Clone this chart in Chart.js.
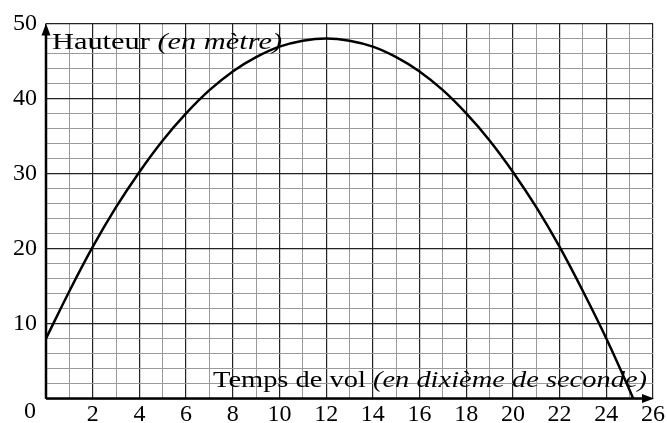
<!DOCTYPE html>
<html>
<head>
<meta charset="utf-8">
<script src="https://cdn.jsdelivr.net/npm/chart.js@4/dist/chart.umd.min.js"></script>
<style>
  html, body { margin: 0; padding: 0; background: #fff; }
  #wrap { width: 667px; height: 423px; }
</style>
</head>
<body>
<div id="wrap"><canvas id="vol-chart" width="667" height="423"></canvas></div>
<script>
// --- data ---
const timeValues = [0, 1, 2, 3, 4, 5, 6, 7, 8, 9, 10, 11, 12, 13, 14, 15, 16, 17, 18, 19, 20, 21, 22, 23, 24, 25, 25.15];
const heightValues = [8, 14.3, 20.2, 25.5, 30.2, 34.4, 38, 41.1, 43.6, 45.5, 46.9, 47.7, 48, 47.7, 46.9, 45.5, 43.6, 41.1, 38, 34.4, 30.2, 25.5, 20.2, 14.3, 8, 1.1, 0];
const xTickLabels = [2, 4, 6, 8, 10, 12, 14, 16, 18, 20, 22, 24, 26];
const yTickLabels = [10, 20, 30, 40, 50];
const originLabel = '0';
const yTitle = ['Hauteur ', '(en mètre)'];
const xTitle = ['Temps de vol ', '(en dixième de seconde)'];

const SERIF = '"Liberation Serif", "DejaVu Serif", serif';
const FONT_SIZE = 24;

// --- titles, origin label and arrowed axes ---
// the reference font is wider than Liberation Serif, so titles get stretched to width
function drawTitle(ctx, parts, x, y, width) {
    ctx.font = `${FONT_SIZE}px ${SERIF}`;
    const w0 = ctx.measureText(parts[0]).width;
    ctx.font = `italic ${FONT_SIZE}px ${SERIF}`;
    const w1 = ctx.measureText(parts[1]).width;
    const k = width / (w0 + w1);
    ctx.save();
    ctx.translate(x, y);
    ctx.scale(k, 1);
    ctx.font = `${FONT_SIZE}px ${SERIF}`;
    ctx.fillText(parts[0], 0, 0);
    ctx.font = `italic ${FONT_SIZE}px ${SERIF}`;
    ctx.fillText(parts[1], w0, 0);
    ctx.restore();
}

const decorPlugin = {
    id: 'decor',
    beforeDatasetsDraw(chart) {
        const { ctx, chartArea: a } = chart;
        ctx.save();
        ctx.fillStyle = '#000';
        ctx.textBaseline = 'alphabetic';
        ctx.textAlign = 'left';
        drawTitle(ctx, yTitle, a.left + 6, a.top + 26, 230);
        drawTitle(ctx, xTitle, a.left + 167, a.bottom - 11.5, 434);
        ctx.restore();
    },
    afterDatasetsDraw(chart) {
        const { ctx, chartArea: a } = chart;
        ctx.save();
        ctx.strokeStyle = '#000';
        ctx.fillStyle = '#000';
        ctx.lineWidth = 2.5;
        ctx.beginPath();
        ctx.moveTo(a.left, a.bottom);
        ctx.lineTo(a.left, a.top + 8);
        ctx.moveTo(a.left, a.bottom);
        ctx.lineTo(a.right - 8, a.bottom);
        ctx.stroke();
        // arrow heads
        ctx.beginPath();
        ctx.moveTo(a.left, a.top);
        ctx.lineTo(a.left - 4.5, a.top + 12);
        ctx.lineTo(a.left + 4.5, a.top + 12);
        ctx.closePath();
        ctx.fill();
        ctx.beginPath();
        ctx.moveTo(a.right + 1, a.bottom);
        ctx.lineTo(a.right - 11, a.bottom - 4.5);
        ctx.lineTo(a.right - 11, a.bottom + 4.5);
        ctx.closePath();
        ctx.fill();
        // origin label
        ctx.font = `${FONT_SIZE}px ${SERIF}`;
        ctx.textAlign = 'center';
        ctx.textBaseline = 'middle';
        ctx.fillText(originLabel, a.left - 16, a.bottom + 13);
        ctx.restore();
    }
};

const chartCtx = document.getElementById('vol-chart').getContext('2d');
const volChart = new Chart(chartCtx, {
    type: 'scatter',
    data: {
        datasets: [{
            data: timeValues.map((t, i) => ({ x: t, y: heightValues[i] })),
            showLine: true,
            borderColor: '#000',
            borderWidth: 2.5,
            pointRadius: 0,
            cubicInterpolationMode: 'monotone',
            fill: false
        }]
    },
    options: {
        responsive: false,
        devicePixelRatio: 1,
        animation: false,
        layout: { padding: { top: 22.5, right: 13, left: 0, bottom: 0 } },
        plugins: { legend: { display: false }, tooltip: { enabled: false } },
        scales: {
            x: {
                type: 'linear', min: 0, max: 26,
                afterFit: s => { s.height = 24.5; },
                border: { display: false },
                grid: {
                    drawTicks: false,
                    color: c => (c.tick.value % 2 === 0 ? '#222' : '#9a9a9a'),
                    lineWidth: c => (c.tick.value % 2 === 0 ? 1.2 : 1)
                },
                ticks: {
                    stepSize: 1, autoSkip: false, maxRotation: 0, padding: 2,
                    color: '#000', font: { family: SERIF, size: FONT_SIZE },
                    callback: v => (xTickLabels.includes(v) ? String(v) : '')
                }
            },
            y: {
                type: 'linear', min: 0, max: 50,
                afterFit: s => { s.width = 46; },
                border: { display: false },
                grid: {
                    drawTicks: false,
                    color: c => (c.tick.value % 10 === 0 ? '#222' : '#9a9a9a'),
                    lineWidth: c => (c.tick.value % 10 === 0 ? 1.2 : 1)
                },
                ticks: {
                    stepSize: 2, autoSkip: false, padding: 9,
                    color: '#000', font: { family: SERIF, size: FONT_SIZE },
                    callback: v => (yTickLabels.includes(v) ? String(v) : '')
                }
            }
        }
    },
    plugins: [decorPlugin]
});
</script>
</body>
</html>
